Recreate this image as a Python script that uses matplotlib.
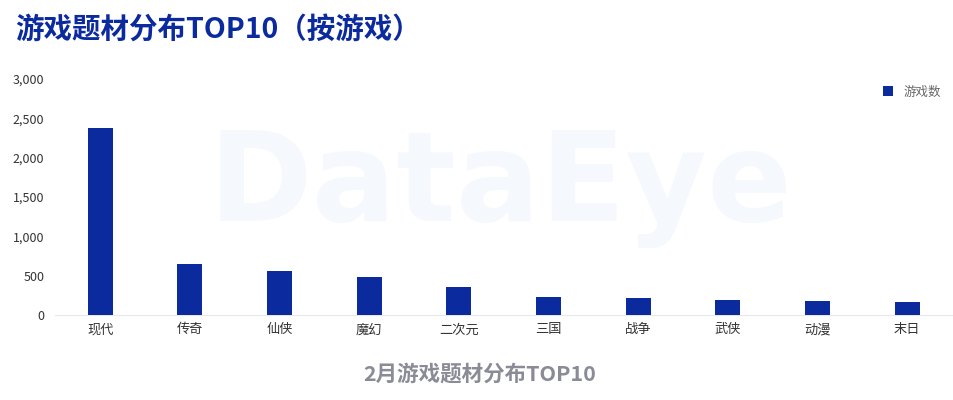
import matplotlib.pyplot as plt

plt.rcParams['font.family'] = ['Noto Sans CJK SC', 'DejaVu Sans']

# 数据
categories = ['现代', '传奇', '仙侠', '魔幻', '二次元', '三国', '战争', '武侠', '动漫', '末日']
game_counts = [2380, 650, 555, 485, 360, 232, 218, 197, 181, 168]
y_ticks = [0, 500, 1000, 1500, 2000, 2500, 3000]

bar_color = '#0B2A9E'

fig = plt.figure(figsize=(9.54, 4), dpi=100)
ax = fig.add_axes([0.058, 0.2125, 0.94, 0.59])

# 水印
fig.text(0.525, 0.53, 'DataEye', fontsize=90, fontweight='bold',
         color='#f5f8fd', ha='center', va='center', family='DejaVu Sans', zorder=0)

x = range(len(categories))
ax.bar(x, game_counts, width=0.28, color=bar_color, label='游戏数', zorder=3)

ax.set_xlim(-0.5, len(categories) - 0.5)
ax.set_ylim(0, 3000)
ax.set_yticks(y_ticks)
ax.set_yticklabels([f'{v:,}' for v in y_ticks], fontsize=9, color='#333333')
ax.set_xticks(list(x))
ax.set_xticklabels(categories, fontsize=9.5, color='#333333')
ax.tick_params(axis='both', length=0, pad=6)
ax.tick_params(axis='y', pad=8)

for s in ['top', 'right', 'left']:
    ax.spines[s].set_visible(False)
ax.spines['bottom'].set_color('#e6e8ee')
ax.patch.set_alpha(0)

ax.legend(loc='upper right', frameon=False, fontsize=9, handlelength=0.8,
          handleheight=0.8, bbox_to_anchor=(1.0, 1.02), labelcolor='#666666')

fig.text(0.016, 0.925, '游戏题材分布TOP10（按游戏）', fontsize=20.5, fontweight='heavy',
         color='#0B2A9E', ha='left', va='center')
fig.text(0.503, 0.065, '2月游戏题材分布TOP10', fontsize=15.5, fontweight='bold',
         color='#8a8b96', ha='center', va='center')

fig.savefig('out.png', dpi=100)
